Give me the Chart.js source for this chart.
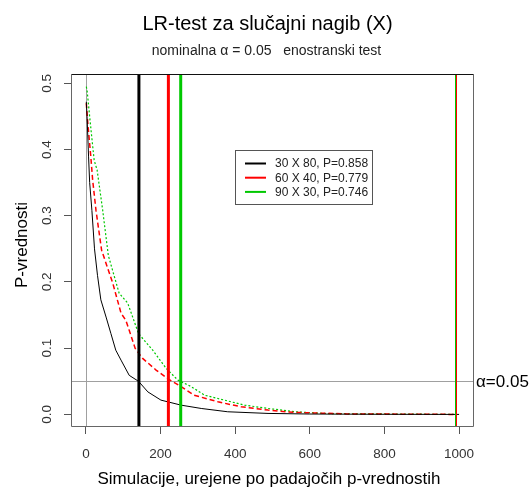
<!DOCTYPE html>
<html>
<head>
<meta charset="utf-8">
<script src="https://cdn.jsdelivr.net/npm/chart.js@4.4.1/dist/chart.umd.min.js"></script>
<style>
  html, body { margin: 0; padding: 0; background: #fff; }
</style>
</head>
<body>
<canvas id="graf" width="531" height="490"></canvas>
<script>
// ordered p-values (rank in simulation run, p-value)
const rank30x80 = [1, 3, 7, 10, 16, 23, 31, 40, 54, 67, 80, 94, 116, 141, 166, 201, 255, 309, 380, 488, 600, 800, 1000];
const p30x80    = [0.472, 0.45, 0.39, 0.35, 0.308, 0.25, 0.21, 0.173, 0.147, 0.122, 0.097, 0.082, 0.059, 0.05, 0.034, 0.0216, 0.014, 0.009, 0.004, 0.0015, 0.0006, 0.0002, 0.0];

const rank60x40 = [1, 5, 13, 18, 27, 42, 72, 94, 107, 116, 132, 152, 188, 219, 255, 290, 354, 416, 488, 559, 700, 993];
const p60x40    = [0.47, 0.44, 0.39, 0.354, 0.308, 0.248, 0.198, 0.153, 0.142, 0.127, 0.0997, 0.0846, 0.067, 0.054, 0.042, 0.029, 0.019, 0.0115, 0.0065, 0.003, 0.0008, 0.0];

const rank90x30 = [1, 3, 11, 22, 30, 45, 60, 89, 112, 141, 179, 215, 246, 282, 318, 354, 425, 488, 559, 650, 989];
const p90x30    = [0.495, 0.49, 0.444, 0.384, 0.369, 0.308, 0.24, 0.183, 0.168, 0.122, 0.097, 0.0695, 0.052, 0.042, 0.029, 0.024, 0.014, 0.009, 0.004, 0.0012, 0.0];

const designs = ['30 X 80', '60 X 40', '90 X 30'];
const power = [0.858, 0.779, 0.746];
const colors = ['#000000', '#ff0000', '#00c800'];
const endRanks = [993, 989];
const endColors = ['#ff0000', '#00c800'];
const nSim = 1000;
const alpha = 0.05;

const xTicks = [0, 200, 400, 600, 800, 1000];
const yTicks = [0.0, 0.1, 0.2, 0.3, 0.4, 0.5];

const pts = (xs, ys) => xs.map((x, i) => ({ x: x, y: ys[i] }));

const FONT = '"Liberation Sans", Arial, sans-serif';

// reference lines, cut-offs, box, legend and all the titles
const dodatki = {
    id: 'dodatki',
    beforeDatasetsDraw(chart) {
        const { ctx, chartArea: a, scales: { x, y } } = chart;
        ctx.save();
        ctx.strokeStyle = '#a0a0a0';
        ctx.lineWidth = 1;
        const x0 = Math.round(x.getPixelForValue(0)) + 0.5;
        const ya = Math.round(y.getPixelForValue(alpha)) + 0.5;
        ctx.beginPath();
        ctx.moveTo(x0, a.top); ctx.lineTo(x0, a.bottom);
        ctx.moveTo(a.left, ya); ctx.lineTo(a.right, ya);
        ctx.stroke();
        ctx.restore();
    },
    afterDatasetsDraw(chart) {
        const { ctx, chartArea: a, scales: { x, y } } = chart;
        ctx.save();
        // number of non-rejected runs = (1 - P) * nSim
        power.forEach((p, i) => {
            const px = x.getPixelForValue((1 - p) * nSim);
            ctx.strokeStyle = colors[i];
            ctx.lineWidth = 3;
            ctx.beginPath();
            ctx.moveTo(px, a.top); ctx.lineTo(px, a.bottom);
            ctx.stroke();
        });
        endRanks.forEach((r, i) => {
            const px = Math.round(x.getPixelForValue(r)) + 0.5;
            ctx.strokeStyle = endColors[i];
            ctx.lineWidth = 1;
            ctx.beginPath();
            ctx.moveTo(px, a.top); ctx.lineTo(px, a.bottom);
            ctx.stroke();
        });

        // plot box
        const l = Math.round(a.left) + 0.5, r = Math.round(a.right) - 0.5;
        const t = Math.round(a.top) + 0.5, b = Math.round(a.bottom) - 0.5;
        ctx.lineWidth = 1;
        ctx.strokeStyle = '#666';
        ctx.beginPath();
        ctx.moveTo(l, t); ctx.lineTo(l, b); ctx.lineTo(r, b); ctx.lineTo(r, t);
        ctx.stroke();
        ctx.strokeStyle = '#111';
        ctx.beginPath();
        ctx.moveTo(l, t); ctx.lineTo(r, t);
        ctx.stroke();

        // legend
        const lx = 235.5, ly = 150.5, lw = 137, lh = 54;
        ctx.fillStyle = '#fff';
        ctx.fillRect(lx, ly, lw, lh);
        ctx.strokeStyle = '#555';
        ctx.strokeRect(lx, ly, lw, lh);
        ctx.font = '12px ' + FONT;
        ctx.textBaseline = 'middle';
        ctx.textAlign = 'left';
        designs.forEach((d, i) => {
            const yy = 163.5 + i * 14.2;
            ctx.strokeStyle = colors[i];
            ctx.lineWidth = 2;
            ctx.beginPath();
            ctx.moveTo(245, yy); ctx.lineTo(266, yy);
            ctx.stroke();
            ctx.fillStyle = '#222';
            ctx.fillText(d + ', P=' + power[i].toFixed(3), 275, yy + 0.5);
        });

        // alpha label on the right margin
        ctx.fillStyle = '#000';
        ctx.font = '17px ' + FONT;
        ctx.fillText('α=0.05', 476, y.getPixelForValue(alpha) + 1);
        ctx.restore();
    },
    afterDraw(chart) {
        const { ctx } = chart;
        ctx.save();
        ctx.fillStyle = '#000';
        ctx.textAlign = 'center';
        ctx.textBaseline = 'alphabetic';
        ctx.font = '20px ' + FONT;
        ctx.fillText('LR-test za slučajni nagib (X)', 267.5, 29.5);
        ctx.fillStyle = '#222';
        ctx.font = '14px ' + FONT;
        ctx.fillText('nominalna α = 0.05   enostranski test', 266.5, 55);
        ctx.fillStyle = '#000';
        ctx.font = '17px ' + FONT;
        ctx.fillText('Simulacije, urejene po padajočih p-vrednostih', 269, 484);
        ctx.translate(27, 245);
        ctx.rotate(-Math.PI / 2);
        ctx.fillText('P-vrednosti', 0, 0);
        ctx.restore();
    }
};

new Chart(document.getElementById('graf'), {
    type: 'line',
    data: {
        datasets: [
            { label: designs[0], data: pts(rank30x80, p30x80), borderColor: colors[0], borderWidth: 1 },
            { label: designs[1], data: pts(rank60x40, p60x40), borderColor: colors[1], borderWidth: 1.5, borderDash: [5, 3] },
            { label: designs[2], data: pts(rank90x30, p90x30), borderColor: colors[2], borderWidth: 1.2, borderDash: [2, 2] }
        ]
    },
    options: {
        responsive: false,
        animation: false,
        layout: { padding: { top: 74, right: 57, bottom: 0, left: 0 } },
        elements: { point: { radius: 0 }, line: { tension: 0, fill: false } },
        plugins: { legend: { display: false }, tooltip: { enabled: false } },
        scales: {
            x: {
                type: 'linear',
                min: -40,
                max: 1040,
                afterFit: (s) => { s.height = 63; },
                afterBuildTicks: (s) => { s.ticks = xTicks.map(v => ({ value: v })); },
                ticks: {
                    color: '#333',
                    font: { size: 13.5, family: FONT },
                    padding: 12,
                    maxRotation: 0,
                    callback: (v) => String(v)
                },
                grid: { drawOnChartArea: false, tickLength: 7, tickColor: '#555' },
                border: { display: false }
            },
            y: {
                type: 'linear',
                min: -0.019,
                max: 0.514,
                afterFit: (s) => { s.width = 71; },
                afterBuildTicks: (s) => { s.ticks = yTicks.map(v => ({ value: v })); },
                ticks: {
                    color: '#333',
                    font: { size: 13.5, family: FONT },
                    minRotation: 90,
                    maxRotation: 90,
                    crossAlign: 'center',
                    padding: 7,
                    callback: (v) => v.toFixed(1)
                },
                grid: { drawOnChartArea: false, tickLength: 7, tickColor: '#555' },
                border: { display: false }
            }
        }
    },
    plugins: [dodatki]
});
</script>
</body>
</html>
